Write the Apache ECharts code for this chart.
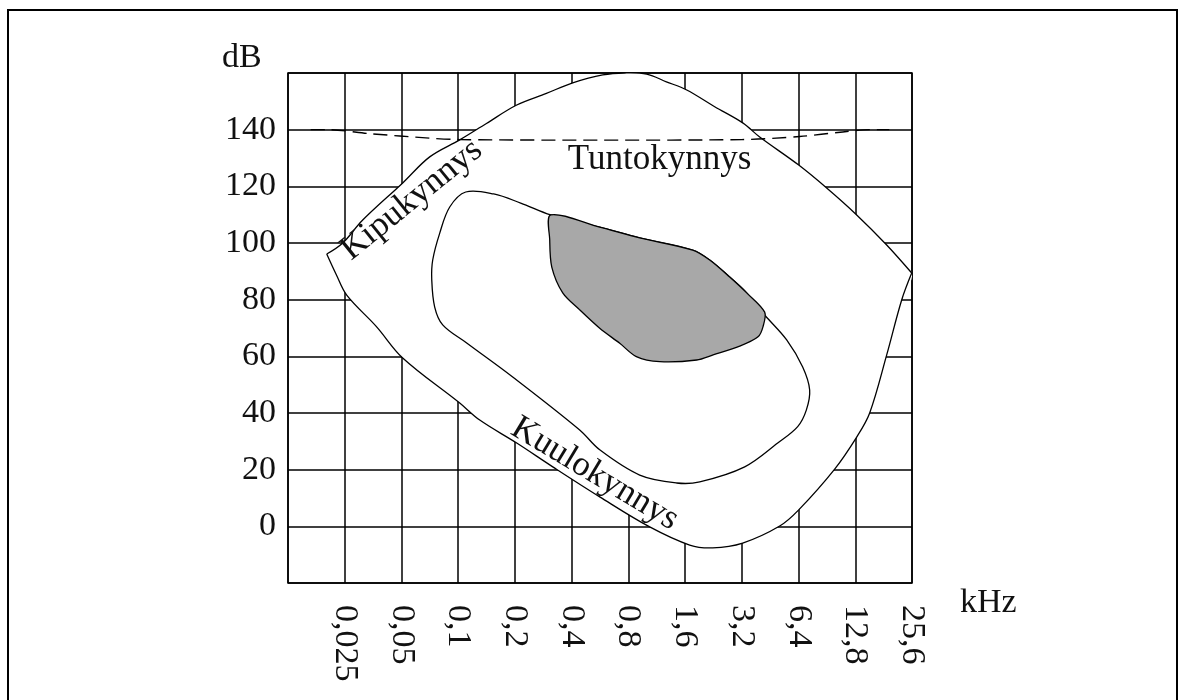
<!DOCTYPE html>
<html>
<head>
<meta charset="utf-8">
<script src="https://cdn.jsdelivr.net/npm/echarts@6/dist/echarts.min.js"></script>
<style>
html,body{margin:0;padding:0;background:#fff;}
#c{width:1185px;height:700px;}
</style>
</head>
<body>
<div id="c"></div>
<script>
// X positions are octave steps: 0 -> 0,025 kHz, 1 -> 0,05 kHz, ... 10 -> 25,6 kHz
const freqLabels = ['0,025','0,05','0,1','0,2','0,4','0,8','1,6','3,2','6,4','12,8','25,6'];
const dbLabels = ['0','20','40','60','80','100','120','140'];
const xAxisTitle = 'kHz';
const yAxisTitle = 'dB';

// Kipukynnys (pain threshold), left to right [octave, dB]
const painThreshold = [
  [-0.317,96.1],[-0.035,100.0],[0.317,108.1],[1.022,121.2],[1.498,130.4],[2.027,136.4],
  [2.498,142.2],[3.032,148.7],[3.555,152.8],[4.019,156.5],[4.548,159.3],[4.936,160.0],
  [5.323,159.6],[5.670,156.9],[6.029,154.0],[6.522,148.1],[7.016,142.4],[7.315,137.4],
  [8.003,127.5],[8.496,119.4],[9.025,109.9],[9.554,99.3],[9.995,89.4]
];
// Kuulokynnys (hearing threshold), left to right
const hearingThreshold = [
  [-0.317,96.1],[-0.146,88.7],[0.035,81.6],[0.559,70.5],[1.022,59.4],[2.027,43.5],
  [2.380,37.5],[3.032,29.4],[3.667,21.0],[4.495,10.4],[5.376,-0.2],[6.081,-6.6],
  [6.487,-7.6],[7.016,-5.9],[7.668,0.1],[8.003,5.8],[8.637,20.2],[9.025,31.5],
  [9.254,40.0],[9.554,60.5],[9.818,79.9],[9.995,89.4]
];
// Tuntokynnys (touch threshold), dashed
const touchThreshold = [
  [-0.60,140.0],[-0.30,140.0],[0.44,138.6],[1.50,137.0],[2.03,136.5],[4.50,136.3],
  [7.00,136.5],[8.02,137.6],[8.78,139.2],[9.25,140.0],[9.60,140.0]
];
// middle closed contour (music area)
const musicArea = [
  [2.133,118.0],[2.626,117.3],[3.102,114.1],[3.632,109.9],[4.495,105.6],[5.200,101.8],
  [6.134,97.5],[6.434,94.0],[6.786,88.0],[7.086,82.4],[7.403,74.6],[7.791,65.8],
  [8.073,56.2],[8.196,48.1],[8.137,41.0],[7.985,35.2],[7.633,29.4],[7.051,21.0],
  [6.258,15.7],[5.853,15.3],[5.200,18.1],[4.495,27.0],[4.142,34.0],[2.961,52.7],
  [2.150,64.7],[1.727,71.1],[1.586,77.4],[1.534,87.1],[1.551,94.0],[1.675,103.5],[1.851,112.7]
];
// grey inner area (speech area)
const speechArea = [
  [3.632,109.9],[4.495,105.6],[5.200,101.8],[6.134,97.5],[6.434,94.0],[6.786,88.0],
  [7.086,82.4],[7.403,75.6],[7.374,70.5],[7.286,66.9],[6.963,63.6],[6.494,60.5],
  [6.205,58.7],[5.553,58.1],[5.141,59.9],[4.848,64.6],[4.495,69.9],[4.142,76.4],
  [3.843,82.4],[3.650,91.5],[3.614,101.0]
];

const annotations = [
  {text:'Kipukynnys', at:[1.18,115.2], angle:39},
  {text:'Tuntokynnys', at:[5.55,129.3], angle:0},
  {text:'Kuulokynnys', at:[4.41,18.5], angle:-31}
];

const serif = '"Liberation Serif","Times New Roman",serif';
const chart = echarts.init(document.getElementById('c'));

function coords(api, arr){ return arr.map(p => api.coord(p)); }

const option = {
  animation:false,
  backgroundColor:'#fff',
  grid:{left:288, right:273, top:73, bottom:117, show:true, borderColor:'#000', borderWidth:1.5, backgroundColor:'transparent'},
  xAxis:{
    type:'value', min:-1, max:10, interval:1,
    axisLine:{show:false}, axisTick:{show:false},
    splitLine:{show:true, lineStyle:{color:'#000', width:1.5}},
    axisLabel:{rotate:-90, margin:22, fontFamily:serif, fontSize:34, color:'#111',
      showMinLabel:true, showMaxLabel:true,
      formatter:v => freqLabels[Math.round(v)] || ''}
  },
  yAxis:{
    type:'value', min:-20, max:160, interval:20,
    axisLine:{show:false}, axisTick:{show:false},
    splitLine:{show:true, lineStyle:{color:'#000', width:1.5}},
    axisLabel:{margin:12, fontFamily:serif, fontSize:34, color:'#111',
      formatter:v => { const i = Math.round(v/20); return (i>=0 && i<dbLabels.length) ? dbLabels[i] : ''; }}
  },
  graphic:[
    {type:'rect', x:8, y:10, shape:{x:0,y:0,width:1169,height:720}, style:{fill:null, stroke:'#000', lineWidth:2}, z:100},
    {type:'text', x:222, y:58, style:{text:yAxisTitle, fontFamily:serif, fontSize:34, fill:'#111', align:'left', verticalAlign:'middle'}, z:100},
    {type:'text', x:960, y:603, style:{text:xAxisTitle, fontFamily:serif, fontSize:34, fill:'#111', align:'left', verticalAlign:'middle'}, z:100}
  ],
  series:[
    {
      type:'custom', coordinateSystem:'cartesian2d', data:[[0,0]], silent:true, z:2,
      renderItem:(params, api) => {
        const up = coords(api, painThreshold);
        const low = coords(api, hearingThreshold);
        const poly = up.concat(low.slice(1, -1).reverse());
        return {type:'group', children:[
          {type:'polygon', shape:{points:poly, smooth:0.35}, style:{fill:'#fff', stroke:null}},
          {type:'polyline', shape:{points:up, smooth:0.35}, style:{fill:null, stroke:'#000', lineWidth:1.3}},
          {type:'polyline', shape:{points:low, smooth:0.35}, style:{fill:null, stroke:'#000', lineWidth:1.3}}
        ]};
      }
    },
    {
      type:'custom', coordinateSystem:'cartesian2d', data:[[0,0]], silent:true, z:3,
      renderItem:(params, api) => ({type:'group', children:[
        {type:'polygon', shape:{points:coords(api, musicArea), smooth:0.35}, style:{fill:null, stroke:'#000', lineWidth:1.3}},
        {type:'polygon', shape:{points:coords(api, speechArea), smooth:0.3}, style:{fill:'#a8a8a8', stroke:'#000', lineWidth:1.3}}
      ]})
    },
    {
      type:'line', data:touchThreshold, smooth:0.3, symbol:'none', silent:true, z:4,
      lineStyle:{color:'#000', width:1.4, type:[14,7]}
    },
    {
      type:'custom', coordinateSystem:'cartesian2d', data:[[0,0]], silent:true, z:5,
      renderItem:(params, api) => ({type:'group', children: annotations.map(a => {
        const p = api.coord(a.at);
        return {type:'text', x:p[0], y:p[1], rotation:a.angle*Math.PI/180,
          style:{text:a.text, fontFamily:serif, fontSize:35, fill:'#111', align:'center', verticalAlign:'middle'}};
      })})
    }
  ]
};
chart.setOption(option);
</script>
</body>
</html>
